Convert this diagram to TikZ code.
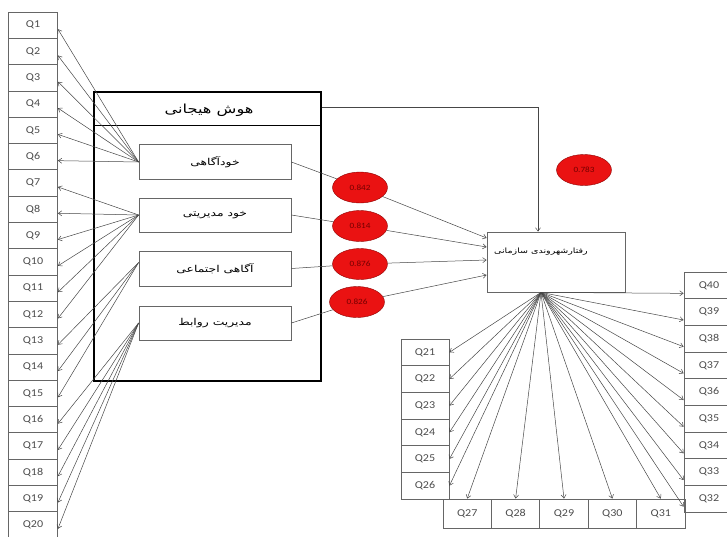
\documentclass[tikz,border=0pt]{standalone}
\usepackage{fontspec}
\setmainfont{Carlito}
\newfontfamily\qfont[FakeStretch=1.15]{Carlito}
\newfontfamily\fa[Script=Arabic,FakeStretch=1.3]{DejaVu Sans}
\TeXXeTstate=1
\usetikzlibrary{arrows.meta,shapes.geometric}
\definecolor{ered}{RGB}{234,18,18}
\definecolor{edge}{RGB}{70,70,70}
\begin{document}
\begin{tikzpicture}[x=1pt,y=-1pt,
  qbox/.style={draw=black!60, line width=0.8pt, minimum width=49pt, minimum height=26.3pt,
    inner sep=0pt, font=\qfont\fontsize{10.5}{10.5}\selectfont, text=black!70},
  subbox/.style={draw=black!60, line width=0.8pt, minimum width=152pt, minimum height=35pt,
    inner sep=0pt, font=\fa\fontsize{9.5}{9.5}\selectfont},
  ell/.style={ellipse, fill=ered, draw=red!55!black, line width=0.4pt, minimum width=55pt,
    minimum height=31pt, inner sep=0pt, font=\qfont\fontsize{8}{8}\selectfont, text=red!45!black},
  fan/.style={draw=edge, line width=0.5pt, -{Straight Barb[length=3.5pt,width=5pt]}},
  link/.style={draw=edge, line width=0.5pt}]
\useasboundingbox (0,0) rectangle (727,536);

% indicator column of the first construct
\foreach \i in {1,...,20}
  \node[qbox] (Q\i) at (33,{12+26.3*(\i-1)+13.15}) {Q\i};

% emotional intelligence block
\node[draw, line width=1.3pt, minimum width=227pt, minimum height=289pt, inner sep=0pt]
  (main) at (207.5,236.5) {};
\draw[line width=0.8pt] ([yshift=-34pt]main.north west) -- ([yshift=-34pt]main.north east);
\node[font=\fa\fontsize{12.5}{12.5}\selectfont] (mtitle) at (209,110) {\beginR هوش هیجانی\endR};

\node[subbox] (b1) at (215,162) {\beginR خودآگاهی\endR};
\node[subbox, minimum height=34pt] (b2) at (215,215) {\beginR خود مدیریتی\endR};
\node[subbox] (b3) at (215,268.5) {\beginR آگاهی اجتماعی\endR};
\node[subbox, minimum height=34pt] (b4) at (215,323) {\beginR مدیریت روابط\endR};

% organisational citizenship behaviour block
\node[draw=black!60, line width=0.8pt, minimum width=138pt, minimum height=60pt, inner sep=0pt]
  (ocb) at (556,262) {};
\node[font=\fa\fontsize{7.3}{7.3}\selectfont] (otitle) at (541,252) {\beginR رفتارشهروندی سازمانی\endR};
\coordinate (fanpt) at ([xshift=-15pt]ocb.south);

% path coefficients
\node[ell] (e1) at (360,187.5) {0.842};
\node[ell] (e2) at (360,226) {0.814};
\node[ell] (e3) at (360,264) {0.876};
\node[ell] (e4) at (357,302) {0.826};
\node[ell] (e5) at (584,170) {0.783};

% indicator blocks of the second construct
\foreach \k in {0,...,5}{
  \pgfmathtruncatemacro{\n}{21+\k}
  \node[qbox, minimum width=48pt, minimum height=26.7pt] (Q\n) at (425,{339+26.67*\k+13.33}) {Q\n};
}
\foreach \k in {0,...,4}{
  \pgfmathtruncatemacro{\n}{27+\k}
  \node[qbox, minimum width=48.4pt, minimum height=29pt] (Q\n) at ({443+48.4*\k+24.2},513.5) {Q\n};
}
\foreach \k in {0,...,8}{
  \pgfmathtruncatemacro{\n}{40-\k}
  \node[qbox, minimum width=50pt, minimum height=26.7pt] (Q\n) at (709,{272+26.67*\k+13.33}) {Q\n};
}

% loadings of the first construct
\foreach \i in {1,...,6}  \draw[fan] (b1.west) -- ([yshift=-4pt]Q\i.east);
\foreach \i in {7,...,12} \draw[fan] (b2.west) -- ([yshift=-4pt]Q\i.east);
\foreach \i in {13,...,15} \draw[fan] ([yshift=6pt]b3.west) -- ([yshift=-4pt]Q\i.east);
\foreach \i in {16,...,20} \draw[fan] (b4.west) -- ([yshift=-4pt]Q\i.east);

% structural paths
\draw[fan] ([yshift=-16pt]main.north east) -| ([xshift=-18pt]ocb.north);
\draw[link] (b1.east) -- (e1);
\draw[link] (b2.east) -- (e2);
\draw[link] (b3.east) -- (e3);
\draw[link] (b4.east) -- (e4);
\draw[fan] (e1) -- ([yshift=24pt]ocb.west);
\draw[fan] (e2) -- ([yshift=15pt]ocb.west);
\draw[fan] (e3) -- ([yshift=2pt]ocb.west);
\draw[fan] (e4) -- ([yshift=-13pt]ocb.west);

% loadings of the second construct
\foreach \i in {21,...,26} \draw[fan] (fanpt) -- (Q\i.east);
\foreach \i in {27,...,31} \draw[fan] (fanpt) -- (Q\i.north);
\foreach \i in {32,...,40} \draw[fan] (fanpt) -- ([yshift=-8pt]Q\i.west);
\end{tikzpicture}
\end{document}
